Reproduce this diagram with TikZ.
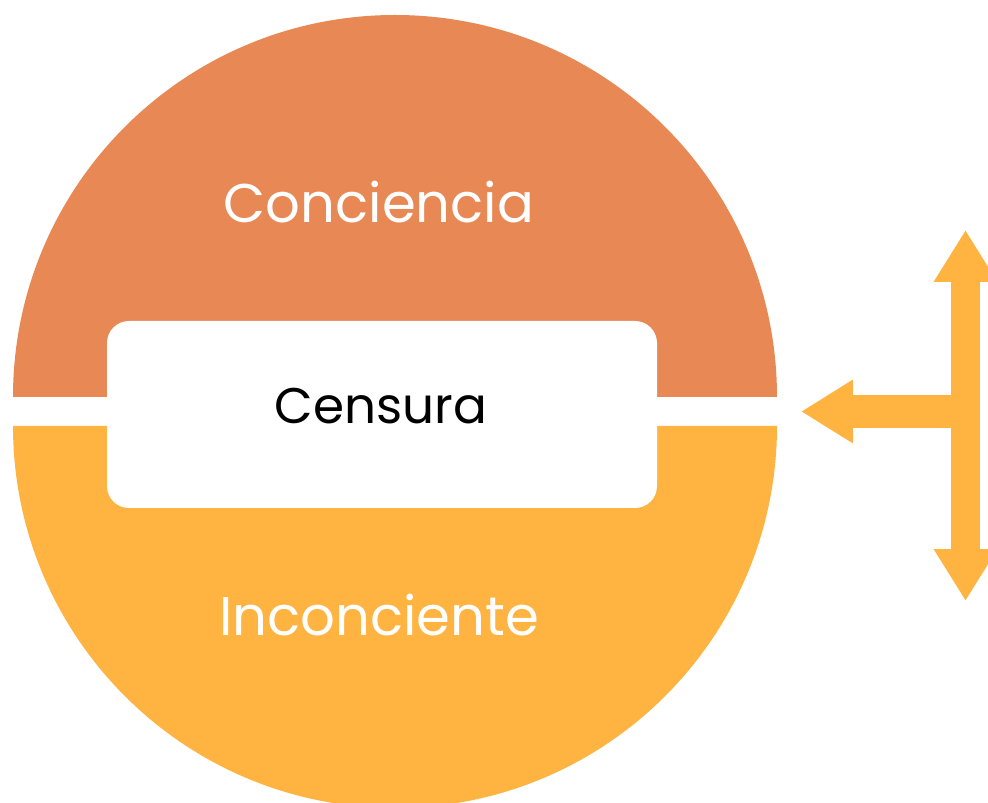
\documentclass[tikz,border=0pt]{standalone}
\usepackage{fontspec}
\setmainfont{Poppins}
\usepackage{tikz}
\usetikzlibrary{positioning, calc, arrows.meta}

\definecolor{concol}{HTML}{E88855}
\definecolor{inccol}{HTML}{FFB340}

\tikzset{bigtip/.tip={Triangle[length=1.04cm, width=1.2cm]}}

\begin{document}
\begin{tikzpicture}[x=0.02cm, y=-0.02cm,
	big/.style={text=white, font=\fontsize{31}{38}\selectfont, inner sep=0, anchor=base},
	mid/.style={text=black, font=\fontsize{28.5}{34}\selectfont, inner sep=0, anchor=base}]
\clip (0,0) rectangle (988,803);
% the two halves
\fill[concol] (13,397) arc[start angle=180, end angle=360, radius=382] -- cycle;
\fill[inccol] (13,426) arc[start angle=180, end angle=0, radius=382] -- cycle;
\fill[white, rounded corners=0.44cm] (107,321) rectangle (657,508);
\foreach \n/\t/\y in {conciencia/Conciencia/223, inconciente/Inconciente/636} {
	\node[big] (\n) at (379, \y) {\t};
}
\node[mid] (censura) at (381, 424) {Censura};
% arrows
\coordinate (hub) at (965.5, 411.5);
\coordinate (up) at (965.5, 230);
\coordinate (down) at (965.5, 601);
\coordinate (left) at (801, 411.5);
\draw[inccol, line width=0.58cm, {bigtip}-{bigtip}] (up) -- (down);
\draw[inccol, line width=0.66cm, -{bigtip}] (hub) -- (left);
\end{tikzpicture}
\end{document}
